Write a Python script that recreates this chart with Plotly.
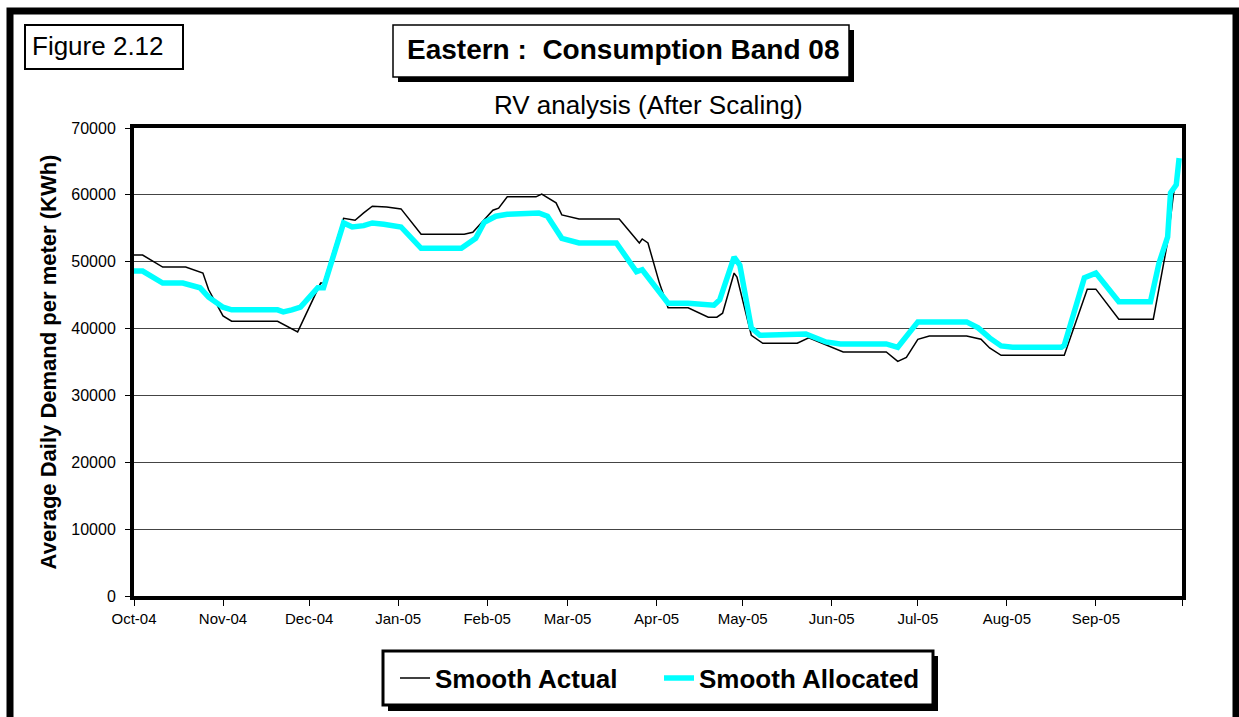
import plotly.graph_objects as go

# Smooth Actual (black) - vertices
ACTUAL_DATES = [
    "2004-10-01", "2004-10-04", "2004-10-11", "2004-10-19", "2004-10-25", "2004-10-27",
    "2004-11-01", "2004-11-04", "2004-11-20", "2004-11-27", "2004-12-05", "2004-12-06",
    "2004-12-13", "2004-12-17", "2004-12-20", "2004-12-23", "2004-12-28", "2005-01-02",
    "2005-01-09", "2005-01-24", "2005-01-27", "2005-02-03", "2005-02-05", "2005-02-08",
    "2005-02-18", "2005-02-20", "2005-02-25", "2005-02-27", "2005-03-05", "2005-03-19",
    "2005-03-26", "2005-03-27", "2005-03-29", "2005-04-02", "2005-04-05", "2005-04-12",
    "2005-04-19", "2005-04-22", "2005-04-24", "2005-04-28", "2005-04-29", "2005-05-04",
    "2005-05-08", "2005-05-20", "2005-05-24", "2005-05-30", "2005-06-05", "2005-06-20",
    "2005-06-24", "2005-06-27", "2005-07-01", "2005-07-05", "2005-07-18", "2005-07-23",
    "2005-07-26", "2005-07-30", "2005-08-21", "2005-08-29", "2005-09-01", "2005-09-09",
    "2005-09-21", "2005-09-23", "2005-09-26", "2005-09-28", "2005-09-30",
]
ACTUAL = [
    51000, 51000, 49200, 49200, 48300, 45800,
    41900, 41100, 41100, 39500, 46800, 46800,
    56500, 56200, 57300, 58300, 58200, 57900,
    54100, 54100, 54400, 57700, 58000, 59700,
    59700, 60100, 58800, 57000, 56400, 56400,
    52800, 53400, 52800, 46800, 43100, 43100,
    41700, 41700, 42300, 48300, 47700, 39000,
    37800, 37800, 38600, 37500, 36500, 36500,
    35100, 35700, 38400, 38900, 38900, 38400,
    37100, 36000, 36000, 45900, 45900, 41400,
    41400, 46000, 53000, 60000, 65000,
]

# Smooth Allocated (cyan)
ALLOC_DATES = [
    "2004-10-01", "2004-10-04", "2004-10-11", "2004-10-18", "2004-10-24", "2004-10-27",
    "2004-11-01", "2004-11-04", "2004-11-20", "2004-11-22", "2004-11-25", "2004-11-28",
    "2004-12-04", "2004-12-06", "2004-12-13", "2004-12-16", "2004-12-20", "2004-12-23",
    "2004-12-27", "2005-01-02", "2005-01-09", "2005-01-23", "2005-01-28", "2005-01-31",
    "2005-02-04", "2005-02-08", "2005-02-19", "2005-02-22", "2005-02-27", "2005-03-05",
    "2005-03-18", "2005-03-25", "2005-03-27", "2005-04-02", "2005-04-05", "2005-04-12",
    "2005-04-20", "2005-04-21", "2005-04-23", "2005-04-28", "2005-04-30", "2005-05-04",
    "2005-05-07", "2005-05-19", "2005-05-23", "2005-05-30", "2005-06-04", "2005-06-20",
    "2005-06-24", "2005-07-01", "2005-07-18", "2005-07-22", "2005-07-26", "2005-07-30",
    "2005-08-03", "2005-08-20", "2005-08-21", "2005-08-28", "2005-09-01", "2005-09-09",
    "2005-09-20", "2005-09-23", "2005-09-26", "2005-09-27", "2005-09-29", "2005-09-30",
]
ALLOCATED = [
    48600, 48600, 46800, 46800, 46100, 44700,
    43200, 42800, 42800, 42500, 42800, 43200,
    46100, 46100, 55800, 55200, 55400, 55800,
    55600, 55200, 52000, 52000, 53500, 55900,
    56800, 57100, 57300, 56800, 53500, 52800,
    52800, 48500, 48800, 45500, 43800, 43800,
    43500, 43500, 44300, 50700, 49500, 40100,
    39000, 39000, 39200, 38000, 37700, 37700,
    37200, 41000, 41000, 40100, 38600, 37400,
    37200, 37200, 37500, 47600, 48300, 44000,
    44000, 49800, 53700, 60300, 61500, 65500,
]

TICK_DATES = [
    "2004-10-01", "2004-11-01", "2004-12-01", "2005-01-01", "2005-02-01", "2005-03-01",
    "2005-04-01", "2005-05-01", "2005-06-01", "2005-07-01", "2005-08-01", "2005-09-01",
    "2005-10-01",
]
TICK_LABELS = [
    "Oct-04", "Nov-04", "Dec-04", "Jan-05", "Feb-05", "Mar-05",
    "Apr-05", "May-05", "Jun-05", "Jul-05", "Aug-05", "Sep-05", "",
]

W, H = 1239, 717
L, R, T, B = 134, 1182, 128, 596  # plot area in pixels


def px(x):
    return (x - L) / (R - L)


def py(y):
    return (B - y) / (B - T)


def rect(x0, y0, x1, y1, lw=1, line="black", fill=None):
    return dict(type="rect", xref="paper", yref="paper",
                x0=px(x0), x1=px(x1), y0=py(y1), y1=py(y0),
                line=dict(color=line, width=lw),
                fillcolor=fill, layer="below")


def label(text, x, y, size):
    return dict(text=text, xref="paper", yref="paper", x=px(x), y=py(y),
                xanchor="center", yanchor="middle", showarrow=False,
                font=dict(size=size, color="black"))


fig = go.Figure()
fig.add_trace(go.Scatter(
    x=ACTUAL_DATES, y=ACTUAL, mode="lines", name="Smooth Actual",
    line=dict(color="black", width=1.5),
))
fig.add_trace(go.Scatter(
    x=ALLOC_DATES, y=ALLOCATED, mode="lines", name="Smooth Allocated",
    line=dict(color="#00FFFF", width=5.5),
))

shapes = [
    # outer frame
    dict(type="rect", xref="paper", yref="paper",
         x0=px(10), x1=px(1236), y0=py(740), y1=py(11),
         line=dict(color="black", width=7), layer="below"),
    # figure label box
    rect(25, 25, 183, 69, lw=2, fill="white"),
    # title shadow + box
    rect(398, 30, 854, 82, lw=0, fill="black"),
    rect(393, 25, 849, 77, lw=1.5, fill="white"),
    # legend shadow + box
    rect(388, 656, 938, 711, lw=0, fill="black"),
    rect(383, 651, 933, 705, lw=3, fill="white"),
]

annotations = [
    label("Figure 2.12", 98, 46, 26),
    label("<b>Eastern :  Consumption Band 08</b>", 623, 50, 28),
    label("RV analysis (After Scaling)", 648, 105, 26),
]

fig.update_layout(
    width=W, height=H,
    margin=dict(l=L, r=W - R, t=T, b=H - B),
    paper_bgcolor="white", plot_bgcolor="white",
    font=dict(family="Arial, Liberation Sans, sans-serif", color="black"),
    showlegend=True,
    legend=dict(
        orientation="h", x=px(395), xanchor="left", y=py(678), yanchor="middle",
        bgcolor="rgba(0,0,0,0)", borderwidth=0,
        font=dict(size=26, color="black", weight="bold"),
        itemwidth=30, entrywidth=219, entrywidthmode="pixels",
    ),
    shapes=shapes,
    annotations=annotations,
)
fig.update_xaxes(
    type="date", range=["2004-10-01", "2005-10-01"],
    tickmode="array", tickvals=TICK_DATES, ticktext=TICK_LABELS,
    ticks="outside", ticklen=6, tickcolor="black", tickfont=dict(size=15),
    showgrid=False, showline=True, linecolor="black", linewidth=4, mirror=True,
    zeroline=False,
)
fig.update_yaxes(
    range=[0, 70000], dtick=10000, tickformat="d",
    ticks="outside", ticklen=5, tickcolor="black", tickfont=dict(size=16),
    ticklabelstandoff=6,
    showgrid=True, gridcolor="#444444", gridwidth=1,
    showline=True, linecolor="black", linewidth=4, mirror=True, zeroline=False,
    title=dict(text="<b>Average Daily Demand per meter (KWh)</b>",
               font=dict(size=22), standoff=10),
)

# page body has an 8px default margin; drop it so the chart fills the window
fig.write_html("out.html", config={"displayModeBar": False},
               post_script="document.body.style.margin='0';")
